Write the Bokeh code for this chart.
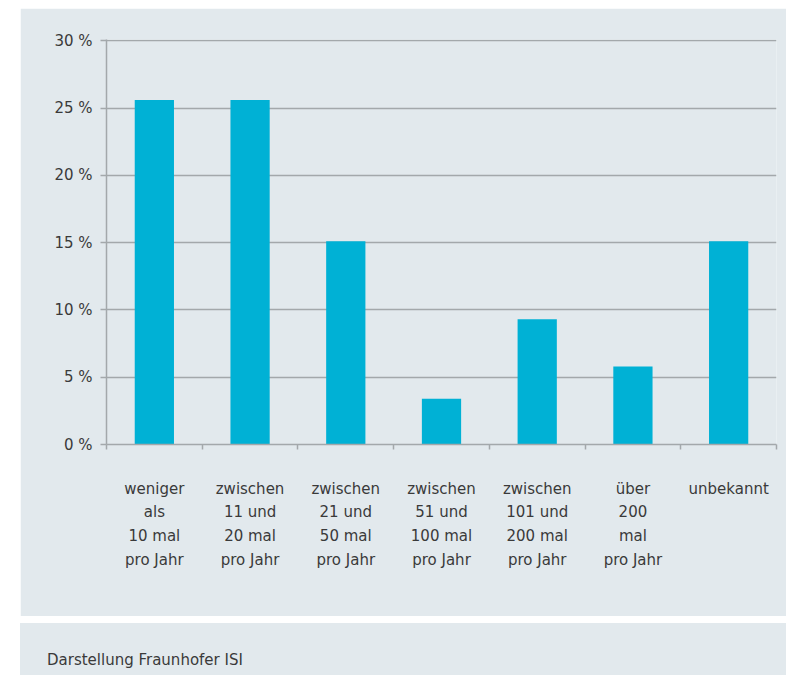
from bokeh.plotting import figure
from bokeh.layouts import column
from bokeh.models import Range1d, FixedTicker, ColumnDataSource, Div
from bokeh.embed import file_html
from bokeh.resources import INLINE

categories = [
    "weniger\nals\n10 mal\npro Jahr",
    "zwischen\n11 und\n20 mal\npro Jahr",
    "zwischen\n21 und\n50 mal\npro Jahr",
    "zwischen\n51 und\n100 mal\npro Jahr",
    "zwischen\n101 und\n200 mal\npro Jahr",
    "über\n200\nmal\npro Jahr",
    "unbekannt",
]
values = [25.6, 25.6, 15.1, 3.4, 9.3, 5.8, 15.1]
y_ticks = [0, 5, 10, 15, 20, 25, 30]
y_tick_labels = ["0 %", "5 %", "10 %", "15 %", "20 %", "25 %", "30 %"]
source_text = "Darstellung Fraunhofer ISI"

BG = "#e2e9ed"
BAR = "#00b1d5"
GRID = "#a3a8ab"
TXT = "#3a3a3a"
FONT = "DejaVu Sans"

n = len(categories)
centers = [i + 0.5 for i in range(n)]
bounds = list(range(n + 1))

src = ColumnDataSource(dict(x=centers, val=values))

p = figure(width=766, height=608, x_range=Range1d(0, n),
           y_range=Range1d(0, 30.1), output_backend="svg", toolbar_location=None,
           min_border_left=86, min_border_right=10, min_border_top=31,
           min_border_bottom=172)
p.margin = (8, 0, 0, 20)
p.background_fill_color = BG
p.border_fill_color = BG
p.outline_line_color = None

p.vbar(x="x", top="val", width=0.41, source=src, color=BAR, line_color=None)

# y axis
ya = p.yaxis[0]
ya.ticker = FixedTicker(ticks=y_ticks)
ya.major_label_overrides = {t: l for t, l in zip(y_ticks, y_tick_labels)}
ya.axis_line_color = GRID
ya.axis_line_width = 1.5
ya.major_tick_line_color = GRID
ya.major_tick_line_width = 1.5
ya.major_tick_in = 0
ya.major_tick_out = 6
ya.minor_tick_line_color = None
ya.major_label_standoff = 8
ya.major_label_text_font = FONT
ya.major_label_text_font_size = "15px"
ya.major_label_text_color = TXT

p.ygrid.ticker = FixedTicker(ticks=y_ticks)
p.ygrid.grid_line_color = GRID
p.ygrid.grid_line_width = 1.5
p.xgrid.grid_line_color = None

# x axis: labels at centers, tick marks at category boundaries
xa = p.xaxis[0]
xa.ticker = FixedTicker(ticks=centers, minor_ticks=bounds)
xa.major_label_overrides = {c: l for c, l in zip(centers, categories)}
xa.axis_line_color = GRID
xa.axis_line_width = 1.5
xa.major_tick_line_color = None
xa.minor_tick_line_color = GRID
xa.minor_tick_line_width = 1.5
xa.minor_tick_in = 0
xa.minor_tick_out = 5
xa.major_label_standoff = 29
xa.major_label_text_font = FONT
xa.major_label_text_font_size = "15px"
xa.major_label_text_color = TXT
xa.major_label_text_line_height = 1.32

# footer
footer = Div(text=source_text, width=766, height=52,
             styles={"background-color": BG, "font-family": FONT,
                     "font-size": "15px", "color": TXT, "line-height": "20px",
                     "padding-left": "27px", "padding-top": "27px",
                     "box-sizing": "border-box"})
footer.margin = (0, 0, 0, 20)

layout = column(p, footer, spacing=7)
open("out.html", "w").write(file_html(layout, INLINE))
